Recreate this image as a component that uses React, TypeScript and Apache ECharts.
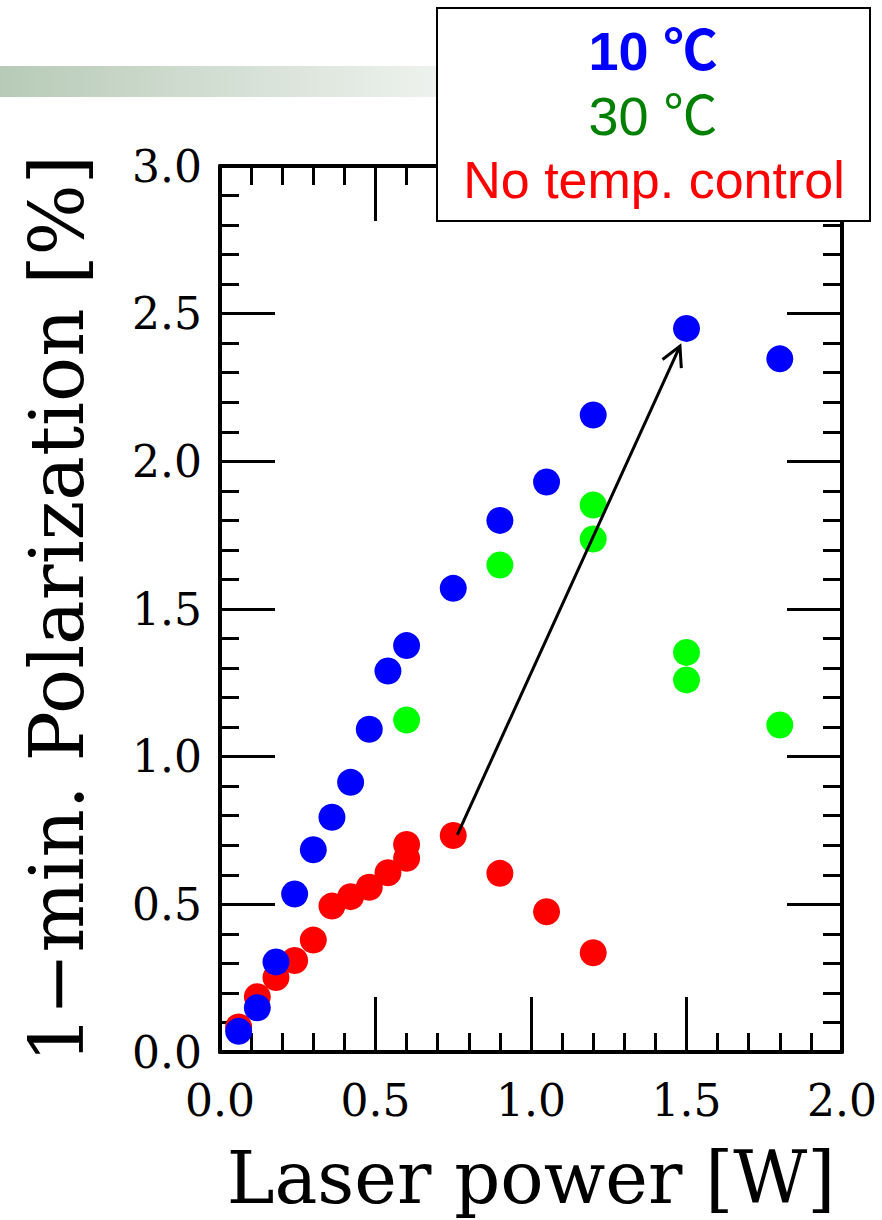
import React, { useEffect, useRef } from "react";
import * as echarts from "echarts";

// ---- data ----
const X_MIN = 0;
const X_MAX = 2;
const Y_MIN = 0;
const Y_MAX = 3;
const AXIS_INTERVAL = 0.5;

const blue10C: number[][] = [
  [0.06, 0.07], [0.12, 0.15], [0.18, 0.305], [0.24, 0.535], [0.30, 0.685],
  [0.36, 0.795], [0.42, 0.913], [0.48, 1.093], [0.54, 1.29], [0.60, 1.376],
  [0.75, 1.57], [0.90, 1.80], [1.05, 1.93], [1.20, 2.157], [1.50, 2.45], [1.80, 2.347],
];
const green30C: number[][] = [
  [0.60, 1.124], [0.90, 1.649], [1.20, 1.852], [1.20, 1.737],
  [1.50, 1.353], [1.50, 1.26], [1.80, 1.107],
];
const redNoCtrl: number[][] = [
  [0.06, 0.085], [0.12, 0.187], [0.18, 0.252], [0.24, 0.31], [0.30, 0.379],
  [0.36, 0.494], [0.42, 0.526], [0.48, 0.558], [0.54, 0.607], [0.60, 0.656],
  [0.60, 0.703], [0.75, 0.733], [0.90, 0.605], [1.05, 0.475], [1.20, 0.336],
];
const arrowSegment: number[][] = [[0.763, 0.735, 1.479, 2.39]];

const legendLines = ["10 ℃", "30 ℃", "No temp. control"];
const xTitle = "Laser power [W]";
const yTitle = "1−min. Polarization [%]";

const SERIF = "'DejaVu Serif', serif";
const SANS = "'Liberation Sans', Arial, 'Noto Sans CJK JP', sans-serif";

export default function App() {
  const ref = useRef<HTMLDivElement>(null);
  useEffect(() => {
    if (!ref.current) return;
    const chart = echarts.init(ref.current, null, { renderer: "svg" });

    const axisCommon = (showLabel: boolean) => ({
      type: "value" as const,
      interval: AXIS_INTERVAL,
      axisLine: { show: true, onZero: false, lineStyle: { color: "#000", width: 4 } },
      axisTick: { show: true, inside: true, length: 55, lineStyle: { color: "#000", width: 3 } },
      minorTick: { show: true, splitNumber: 5, length: 19, lineStyle: { color: "#000", width: 3 } },
      splitLine: { show: false },
      minorSplitLine: { show: false },
      axisLabel: {
        show: showLabel,
        color: "#000",
        fontFamily: SERIF,
        fontSize: 44,
        formatter: (v: number) => v.toFixed(1),
      },
    });

    const option: any = {
      animation: false,
      backgroundColor: "#fff",
      grid: { left: 220, right: 40, top: 166, bottom: 168 },
      xAxis: [
        {
          ...axisCommon(true),
          min: X_MIN, max: X_MAX, position: "bottom",
          axisLabel: { ...axisCommon(true).axisLabel, margin: 26 },
          name: xTitle, nameLocation: "middle", nameGap: 90,
          nameTextStyle: { color: "#000", fontFamily: SERIF, fontSize: 72 },
        },
        { ...axisCommon(false), min: X_MIN, max: X_MAX, position: "top" },
      ],
      yAxis: [
        {
          ...axisCommon(true),
          min: Y_MIN, max: Y_MAX, position: "left",
          axisLabel: { ...axisCommon(true).axisLabel, margin: 18 },
          name: yTitle, nameLocation: "middle", nameGap: 126,
          nameTextStyle: { color: "#000", fontFamily: SERIF, fontSize: 75 },
        },
        { ...axisCommon(false), min: Y_MIN, max: Y_MAX, position: "right" },
      ],
      series: [
        {
          type: "scatter", name: legendLines[2], data: redNoCtrl,
          symbol: "circle", symbolSize: 27, itemStyle: { color: "#ff0000", opacity: 1 }, z: 3,
        },
        {
          type: "scatter", name: legendLines[1], data: green30C,
          symbol: "circle", symbolSize: 27, itemStyle: { color: "#00ff00", opacity: 1 }, z: 4,
        },
        {
          type: "scatter", name: legendLines[0], data: blue10C,
          symbol: "circle", symbolSize: 27, itemStyle: { color: "#0000ff", opacity: 1 }, z: 5,
        },
        {
          type: "custom",
          data: arrowSegment,
          z: 10,
          renderItem: (_params: any, api: any) => {
            const p1 = api.coord([api.value(0), api.value(1)]);
            const p2 = api.coord([api.value(2), api.value(3)]);
            const dx = p2[0] - p1[0];
            const dy = p2[1] - p1[1];
            const len = Math.sqrt(dx * dx + dy * dy);
            const ux = dx / len, uy = dy / len;
            const ang = (28 * Math.PI) / 180;
            const arm = 22;
            const rot = (a: number) => [
              ux * Math.cos(a) - uy * Math.sin(a),
              ux * Math.sin(a) + uy * Math.cos(a),
            ];
            const r1 = rot(ang), r2 = rot(-ang);
            return {
              type: "group",
              children: [
                {
                  type: "line",
                  shape: { x1: p1[0], y1: p1[1], x2: p2[0], y2: p2[1] },
                  style: { stroke: "#000", lineWidth: 3 },
                },
                {
                  type: "polyline",
                  shape: {
                    points: [
                      [p2[0] - r1[0] * arm, p2[1] - r1[1] * arm],
                      [p2[0], p2[1]],
                      [p2[0] - r2[0] * arm, p2[1] - r2[1] * arm],
                    ],
                  },
                  style: { stroke: "#000", lineWidth: 3, fill: "none" },
                },
              ],
            };
          },
        },
      ],
      graphic: [
        {
          type: "rect",
          z: 1,
          shape: { x: 0, y: 66, width: 437, height: 31 },
          style: {
            fill: new echarts.graphic.LinearGradient(0, 0, 1, 0, [
              { offset: 0, color: "#b7cab7" },
              { offset: 1, color: "#eef2ee" },
            ]),
          },
        },
        {
          type: "group",
          z: 100,
          children: [
            {
              type: "rect",
              z: 100,
              shape: { x: 437, y: 8, width: 433, height: 213 },
              style: { fill: "#fff", stroke: "#000", lineWidth: 2 },
            },
            {
              type: "text", z: 101, x: 653, y: 51,
              style: {
                text: legendLines[0], fill: "#0000ff", fontFamily: SANS, fontSize: 54,
                fontWeight: "bold", align: "center", verticalAlign: "middle",
              },
            },
            {
              type: "text", z: 101, x: 653, y: 116,
              style: {
                text: legendLines[1], fill: "#008000", fontFamily: SANS, fontSize: 54,
                align: "center", verticalAlign: "middle",
              },
            },
            {
              type: "text", z: 101, x: 654, y: 180,
              style: {
                text: legendLines[2], fill: "#ff0000", fontFamily: SANS, fontSize: 52,
                align: "center", verticalAlign: "middle",
              },
            },
          ],
        },
      ],
    };
    chart.setOption(option);
    return () => chart.dispose();
  }, []);
  return (
    <div
      ref={ref}
      style={{ position: "fixed", left: 0, top: 0, width: 882, height: 1220, background: "#fff" }}
    />
  );
}
